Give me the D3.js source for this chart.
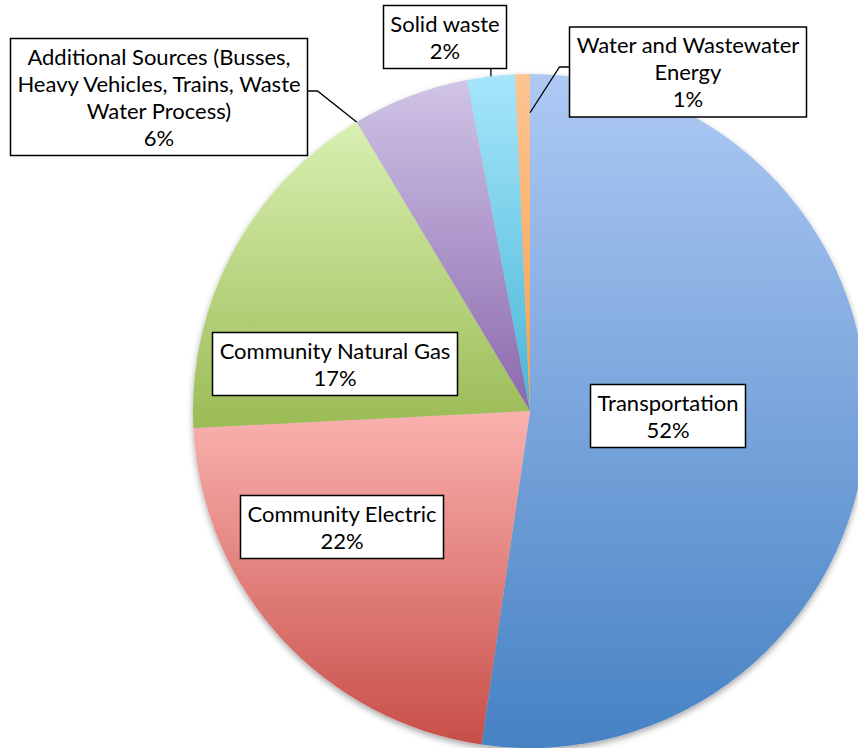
<!DOCTYPE html>
<html lang="en">
<head>
<meta charset="UTF-8">
<title>Emissions by sector</title>
<script src="https://cdn.jsdelivr.net/npm/d3@7/dist/d3.min.js"></script>
<style>
  * { margin: 0; padding: 0; }
  body { background: #fff; }
  svg text { font-family: Lato, "Open Sans", sans-serif; font-size: 22px; fill: #000; }
</style>
</head>
<body>
<svg></svg>
<script>
  // data
  const categories = [
    "Transportation",
    "Community Electric",
    "Community Natural Gas",
    "Additional Sources (Busses,\nHeavy Vehicles, Trains, Waste\nWater Process)",
    "Solid waste",
    "Water and Wastewater\nEnergy"
  ];
  const values = [52.3, 21.9, 17.2, 5.6, 2.3, 0.7];

  // styles
  const topColors = ["#aec9f4", "#fab2af", "#d9f0b2", "#d0c4e6", "#a6e6fb", "#fdc592"];
  const bottomColors = ["#4682c4", "#c84e48", "#9bbb55", "#8a68ad", "#48b6d6", "#f6a04e"];

  // label box centres + leader setup
  const boxCenters = [[668, 416], [342, 527], [335, 364], [159, 97], [445, 37], [688, 72]];
  const leaders = [null, null, null,
    { side: 'right', t: 0, r: 1 },
    { side: 'bottom', t: 0.5, r: 1 },
    { side: 'left', t: 1, r: 0.885 }];

  const width = 858, height = 748;
  const cx = 530, cy = 411, radius = 337;
  const lineH = 27;

  const svg = d3.select('svg').attr('width', width).attr('height', height);
  const defs = svg.append('defs');

  const shadow = defs.append('filter').attr('id', 'shadow')
    .attr('x', '-10%').attr('y', '-10%').attr('width', '120%').attr('height', '120%');
  shadow.append('feDropShadow').attr('dx', 0).attr('dy', 3).attr('stdDeviation', 3)
    .attr('flood-color', '#000').attr('flood-opacity', 0.35);

  categories.forEach((c, i) => {
    const g = defs.append('linearGradient').attr('id', 'grad' + i)
      .attr('x1', 0).attr('y1', 0).attr('x2', 0).attr('y2', 1);
    g.append('stop').attr('offset', '0%').attr('stop-color', topColors[i]);
    g.append('stop').attr('offset', '100%').attr('stop-color', bottomColors[i]);
  });

  const data = categories.map((c, i) => ({ name: c, value: values[i], i: i }));
  const total = d3.sum(values);

  const pie = d3.pie().sort(null).value(d => d.value);
  const arc = d3.arc().innerRadius(0).outerRadius(radius);
  const arcs = pie(data);

  const g = svg.append('g').attr('transform', `translate(${cx},${cy})`);

  g.append('g').attr('filter', 'url(#shadow)')
    .selectAll('path')
    .data(arcs).enter()
    .append('path')
    .attr('d', arc)
    .attr('fill', d => `url(#grad${d.data.i})`);

  // point on a slice: t along its angle span, r as fraction of radius
  const slicePoint = (d, t, r) => {
    const a = d.startAngle + (d.endAngle - d.startAngle) * t;
    return [cx + radius * r * Math.sin(a), cy - radius * r * Math.cos(a)];
  };

  const labels = svg.append('g');

  arcs.forEach((d, i) => {
    const lines = d.data.name.split('\n');
    lines.push(d3.format('.0f')(d.data.value / total * 100) + '%');
    const [bx, by] = boxCenters[i];
    const lg = labels.append('g');
    const rect = lg.append('rect');
    const text = lg.append('text').attr('text-anchor', 'middle');
    lines.forEach((l, k) => {
      text.append('tspan').attr('x', bx).attr('y', 0).attr('dy', k * lineH).text(l);
    });
    const tw = d3.max(text.selectAll('tspan').nodes(), n => n.getComputedTextLength());
    const w = Math.round(tw + 14);
    const h = lines.length * lineH + 9;
    const top = by - h / 2;
    text.attr('transform', `translate(0,${top + 26})`);
    rect.attr('x', bx - w / 2).attr('y', top).attr('width', w).attr('height', h)
      .attr('fill', '#fff').attr('stroke', '#000').attr('stroke-width', 1.5);

    const ld = leaders[i];
    if (ld) {
      const end = slicePoint(d, ld.t, ld.r);
      let pts;
      if (ld.side === 'right') {
        const y = by - 6;
        pts = [[bx + w / 2, y], [bx + w / 2 + 10, y], end];
      } else if (ld.side === 'left') {
        const y = by - 5;
        pts = [[bx - w / 2, y], [bx - w / 2 - 10, y], end];
      } else {
        pts = [[end[0], top + h], end];
      }
      labels.insert('path', ':first-child')
        .attr('d', d3.line()(pts))
        .attr('fill', 'none').attr('stroke', '#000').attr('stroke-width', 1.3);
    }
  });
</script>
</body>
</html>
